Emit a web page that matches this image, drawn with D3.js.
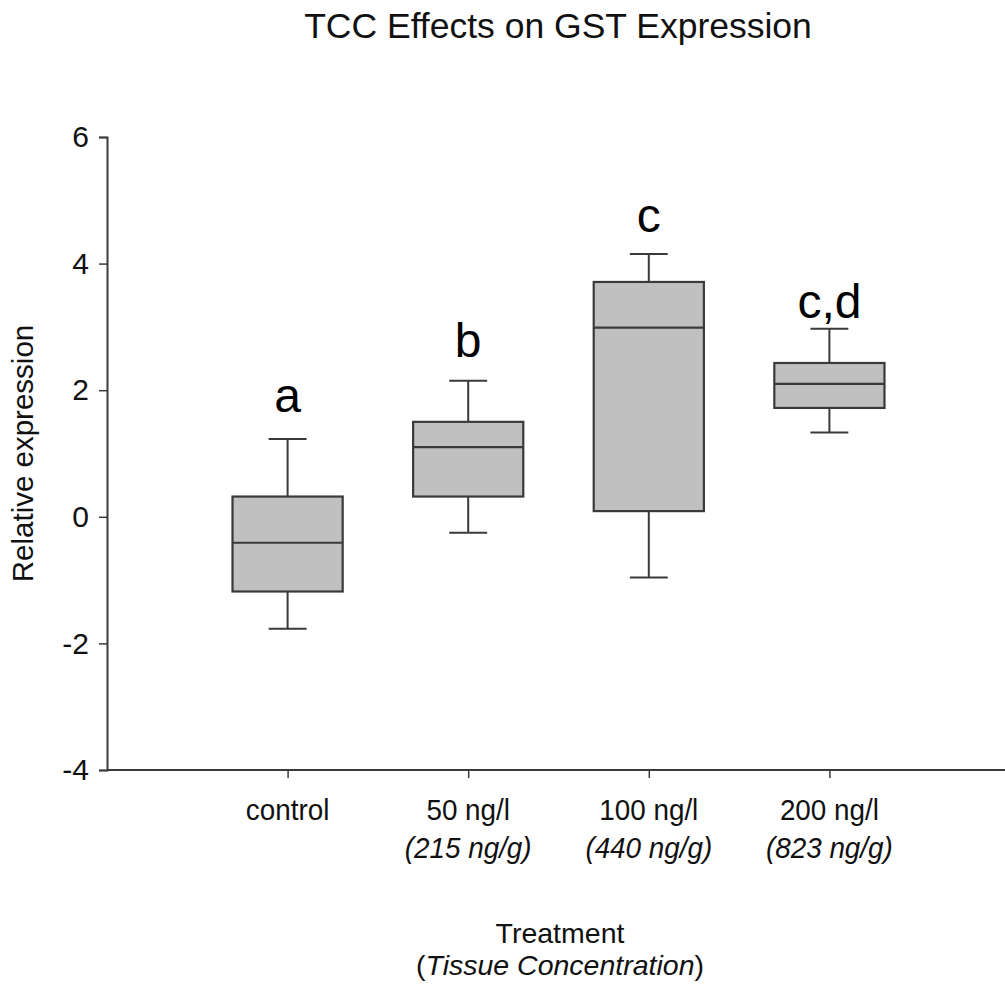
<!DOCTYPE html>
<html>
<head>
<meta charset="utf-8">
<script src="https://cdn.jsdelivr.net/npm/d3@7"></script>
<style>
  html, body { margin: 0; padding: 0; background: #fff; }
  svg { display: block; font-family: "Liberation Sans", Arial, Helvetica, sans-serif; }
</style>
</head>
<body>
<svg id="chart" width="1005" height="987"></svg>
<script>
// ---- data ----
const categories   = ["control", "50 ng/l", "100 ng/l", "200 ng/l"];
const subLabels    = ["", "(215 ng/g)", "(440 ng/g)", "(823 ng/g)"];
const whiskerLow   = [-1.77, -0.25, -0.96, 1.33];
const q1           = [-1.18,  0.32,  0.09, 1.72];
const medians      = [-0.41,  1.10,  2.99, 2.10];
const q3           = [ 0.32,  1.50,  3.71, 2.43];
const whiskerHigh  = [ 1.23,  2.15,  4.15, 2.97];
const sigLetters   = ["a", "b", "c", "c,d"];
const sigLetterY   = [1.66, 2.53, 4.50, 3.14];
const yTicks       = [-4, -2, 0, 2, 4, 6];

// ---- layout ----
const svg = d3.select("#chart");
const x = d3.scaleLinear().domain([0, 5]).range([107, 1010]);
const y = d3.scaleLinear().domain([-4, 6]).range([770, 137]);
const boxW = 0.61;   // in x units
const capW = 0.21;
const stroke = "#3a3a3a";
const font = "'Liberation Sans', Arial, sans-serif";

const data = categories.map((c, i) => ({
  cat: c, pos: i + 1, lo: whiskerLow[i], q1: q1[i], med: medians[i],
  q3: q3[i], hi: whiskerHigh[i], letter: sigLetters[i], ly: sigLetterY[i], sub: subLabels[i]
}));

// title
svg.append("text").attr("x", 558).attr("y", 38).attr("text-anchor", "middle")
  .attr("font-size", 35.5).attr("fill", "#111").text("TCC Effects on GST Expression");

// y axis
const yAxis = d3.axisLeft(y).tickValues(yTicks).tickSize(8).tickPadding(10)
  .tickFormat(d => String(d));
const gy = svg.append("g").attr("transform", `translate(${x(0)},0)`).call(yAxis);
gy.attr("font-family", font);
gy.select(".domain").attr("stroke", stroke).attr("stroke-width", 2);
gy.selectAll(".tick line").attr("stroke", stroke).attr("stroke-width", 1.5);
gy.selectAll(".tick text").attr("font-size", 30).attr("fill", "#111");

// x axis
const xAxis = d3.axisBottom(x).tickValues([1, 2, 3, 4]).tickSize(8).tickFormat(() => "");
const gx = svg.append("g").attr("transform", `translate(0,${y(-4)})`).call(xAxis);
gx.select(".domain").attr("stroke", stroke).attr("stroke-width", 2).attr("d", `M${x(0)},0H${x(5)}`);
gx.selectAll(".tick line").attr("stroke", stroke).attr("stroke-width", 1.5);

// x tick labels (two lines)
const xl = svg.append("g");
data.forEach(d => {
  xl.append("text").attr("x", x(d.pos)).attr("y", 820).attr("text-anchor", "middle")
    .attr("font-size", 29).attr("fill", "#111")
    .attr("transform", `translate(${x(d.pos)},0) scale(0.96,1) translate(${-x(d.pos)},0)`)
    .text(d.cat);
  if (d.sub) {
    xl.append("text").attr("x", x(d.pos)).attr("y", 858).attr("text-anchor", "middle")
      .attr("font-size", 29).attr("font-style", "italic").attr("fill", "#111")
      .attr("transform", `translate(${x(d.pos)},0) scale(0.96,1) translate(${-x(d.pos)},0)`)
      .text(d.sub);
  }
});

// axis titles
svg.append("text").attr("x", 560).attr("y", 943).attr("text-anchor", "middle")
  .attr("font-size", 28.5).attr("fill", "#111").text("Treatment");
const t2 = svg.append("text").attr("x", 560).attr("y", 975).attr("text-anchor", "middle")
  .attr("font-size", 28.5).attr("fill", "#111");
t2.append("tspan").text("(");
t2.append("tspan").attr("font-style", "italic").text("Tissue Concentration");
t2.append("tspan").text(")");

svg.append("text").attr("transform", `translate(33,${(y(-4) + y(6)) / 2}) rotate(-90)`)
  .attr("text-anchor", "middle").attr("font-size", 29.5).attr("fill", "#111")
  .text("Relative expression");

// boxes
const g = svg.append("g");
const boxes = g.selectAll("g.box").data(data).join("g").attr("class", "box");

// whiskers
boxes.append("line").attr("x1", d => x(d.pos)).attr("x2", d => x(d.pos))
  .attr("y1", d => y(d.q3)).attr("y2", d => y(d.hi)).attr("stroke", stroke).attr("stroke-width", 2);
boxes.append("line").attr("x1", d => x(d.pos)).attr("x2", d => x(d.pos))
  .attr("y1", d => y(d.q1)).attr("y2", d => y(d.lo)).attr("stroke", stroke).attr("stroke-width", 2);
// caps
boxes.append("line").attr("x1", d => x(d.pos - capW / 2)).attr("x2", d => x(d.pos + capW / 2))
  .attr("y1", d => y(d.hi)).attr("y2", d => y(d.hi)).attr("stroke", stroke).attr("stroke-width", 2);
boxes.append("line").attr("x1", d => x(d.pos - capW / 2)).attr("x2", d => x(d.pos + capW / 2))
  .attr("y1", d => y(d.lo)).attr("y2", d => y(d.lo)).attr("stroke", stroke).attr("stroke-width", 2);
// box
boxes.append("rect").attr("x", d => x(d.pos - boxW / 2)).attr("width", d => x(d.pos + boxW / 2) - x(d.pos - boxW / 2))
  .attr("y", d => y(d.q3)).attr("height", d => y(d.q1) - y(d.q3))
  .attr("fill", "#c0c0c0").attr("stroke", stroke).attr("stroke-width", 2.2);
// median
boxes.append("line").attr("x1", d => x(d.pos - boxW / 2)).attr("x2", d => x(d.pos + boxW / 2))
  .attr("y1", d => y(d.med)).attr("y2", d => y(d.med)).attr("stroke", stroke).attr("stroke-width", 2.2);

// significance letters
boxes.append("text").attr("x", d => x(d.pos)).attr("y", d => y(d.ly)).attr("text-anchor", "middle")
  .attr("font-size", 48).attr("fill", "#000").text(d => d.letter);
</script>
</body>
</html>
